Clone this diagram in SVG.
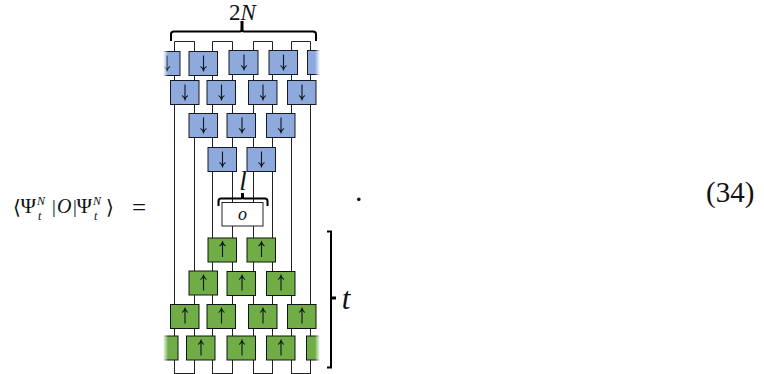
<svg xmlns="http://www.w3.org/2000/svg" xmlns:xlink="http://www.w3.org/1999/xlink" width="764" height="374" viewBox="0 0 764 374">
<style>
text{font-family:"Liberation Serif","DejaVu Serif",serif;fill:#111}
.i{font-style:italic}
.w{fill:none;stroke:#222;stroke-width:1}
.b{fill:#8ea9db;stroke:#161a22;stroke-width:1}
.g{fill:#70ad47;stroke:#10160c;stroke-width:1}
.br{fill:none;stroke:#000;stroke-width:2}
.tk{fill:none;stroke:#000;stroke-width:3}
.a{fill:none;stroke:#10151f;stroke-width:1.100}
</style>
<defs>
<linearGradient id="fl"><stop offset="0" stop-color="#fff"/><stop offset="1" stop-color="#fff" stop-opacity="0"/></linearGradient>
<linearGradient id="fr"><stop offset="0" stop-color="#fff" stop-opacity="0"/><stop offset="1" stop-color="#fff"/></linearGradient>
<g id="dn"><path class="a" d="M0-7.500V7M-3 3.500Q-1 4.500 0 7.500Q1 4.500 3 3.500"/></g>
<g id="up"><path class="a" d="M0 7.500V-7M-3-3.500Q-1-4.500 0-7.500Q1-4.500 3-3.500"/></g>
</defs>
<g id="connectors">
<path class="w" d="M174.500 373V41.500H194.500V373M212.500 373V41.500H232.500V373M253.500 373V41.500H272.500V373M291.500 373V41.500H310.500V373"/>
<path class="w" d="M174 373.500H195M212 373.500H233M253 373.500H273M291 373.500H311"/>
</g>
<g id="top-row">
<rect class="b" x="160.500" y="51.500" width="19.500" height="24"/><use xlink:href="#dn" x="167" y="63"/>
<rect class="b" x="189" y="51.500" width="28.500" height="24"/><use xlink:href="#dn" x="203.500" y="63"/>
<rect class="b" x="229" y="50.500" width="29" height="24"/><use xlink:href="#dn" x="244" y="62"/>
<rect class="b" x="269" y="50.500" width="28.500" height="24"/><use xlink:href="#dn" x="283.500" y="62"/>
<rect class="b" x="307.500" y="50.500" width="16" height="24"/>
</g>
<g id="row-2">
<rect class="b" x="170.500" y="80.500" width="28.500" height="24"/><use xlink:href="#dn" x="185" y="92"/>
<rect class="b" x="207" y="80.500" width="28.500" height="24"/><use xlink:href="#dn" x="221.500" y="92"/>
<rect class="b" x="248.500" y="80.500" width="28.500" height="24"/><use xlink:href="#dn" x="263" y="92"/>
<rect class="b" x="287.500" y="80.500" width="28.500" height="24"/><use xlink:href="#dn" x="302" y="92"/>
</g>
<g id="row-3">
<rect class="b" x="189" y="113.500" width="28.500" height="24"/><use xlink:href="#dn" x="203.500" y="125"/>
<rect class="b" x="227" y="113.500" width="28.500" height="24"/><use xlink:href="#dn" x="242" y="125"/>
<rect class="b" x="266.500" y="113.500" width="28.500" height="24"/><use xlink:href="#dn" x="281" y="125"/>
</g>
<g id="row-4">
<rect class="b" x="208" y="147.500" width="28.500" height="24"/><use xlink:href="#dn" x="222.500" y="159"/>
<rect class="b" x="247" y="147.500" width="28.500" height="24"/><use xlink:href="#dn" x="261.500" y="159"/>
</g>
<g id="operator">
<rect x="222" y="202.500" width="41" height="23.500" fill="#fff" stroke="#222" stroke-width="1"/>
<text class="i" x="242.500" y="220" font-size="18" text-anchor="middle">o</text>
<path class="br" d="M218.500 206V201Q218.500 198.500 221 198.500H241Q242.500 198.500 242.500 197Q242.500 198.500 244 198.500H265Q267.500 198.500 267.500 201V206"/>
<path class="tk" d="M242.500 198V193"/>
<text class="i" x="243" y="190" font-size="27" text-anchor="middle">l</text>
</g>
<g id="green-1">
<rect class="g" x="208" y="238" width="28.500" height="24"/><use xlink:href="#up" x="222.500" y="249.500"/>
<rect class="g" x="247" y="238" width="28.500" height="24"/><use xlink:href="#up" x="261.500" y="249.500"/>
</g>
<g id="green-2">
<rect class="g" x="189" y="271" width="28.500" height="24"/><use xlink:href="#up" x="203.500" y="283"/>
<rect class="g" x="227" y="271.500" width="28.500" height="24"/><use xlink:href="#up" x="242" y="283"/>
<rect class="g" x="266.500" y="271.500" width="28.500" height="24"/><use xlink:href="#up" x="281" y="283"/>
</g>
<g id="green-3">
<rect class="g" x="170.500" y="304.500" width="28.500" height="24"/><use xlink:href="#up" x="185" y="316"/>
<rect class="g" x="207" y="304.500" width="28.500" height="24"/><use xlink:href="#up" x="221.500" y="316"/>
<rect class="g" x="248.500" y="304.500" width="28.500" height="24"/><use xlink:href="#up" x="263" y="316"/>
<rect class="g" x="287.500" y="304.500" width="28.500" height="24"/><use xlink:href="#up" x="302" y="316"/>
</g>
<g id="green-4">
<rect class="g" x="160" y="336" width="18" height="24"/>
<rect class="g" x="186.500" y="336" width="28.500" height="24"/><use xlink:href="#up" x="201" y="348"/>
<rect class="g" x="227" y="336" width="28.500" height="24"/><use xlink:href="#up" x="242" y="348"/>
<rect class="g" x="266.500" y="336" width="28.500" height="24"/><use xlink:href="#up" x="281" y="348"/>
<rect class="g" x="306.500" y="336" width="17" height="24"/>
</g>
<g id="fades">
<rect x="163" y="49" width="5" height="28" fill="url(#fl)"/>
<rect x="315" y="49" width="5" height="28" fill="url(#fr)"/>
<rect x="163" y="334" width="5" height="28" fill="url(#fl)"/>
<rect x="315" y="334" width="5" height="28" fill="url(#fr)"/>
<rect x="159" y="44" width="4" height="36" fill="#fff"/>
<rect x="320" y="44" width="5" height="36" fill="#fff"/>
<rect x="159" y="330" width="4" height="36" fill="#fff"/>
<rect x="320" y="330" width="5" height="36" fill="#fff"/>
</g>
<g id="brace-2n">
<path class="br" d="M171 41V34Q171 31.500 174 31.500H240Q242 31.500 242 29Q242 31.500 244 31.500H313Q316 31.500 316 34V41"/>
<path class="tk" d="M242 31V21"/>
<text x="242.500" y="19.500" font-size="23" text-anchor="middle">2<tspan class="i">N</tspan></text>
</g>
<g id="bracket-t">
<path class="br" d="M327 231.500H331V367.500H327"/>
<path class="tk" d="M331 298H336"/>
<text class="i" x="346" y="309" font-size="31" text-anchor="middle">t</text>
</g>
<g id="formula">
<text x="13" y="214" font-size="20" font-family="DejaVu Sans">⟨</text>
<text x="20.500" y="213" font-size="21">Ψ</text>
<text class="i" x="37" y="205" font-size="12">N</text>
<text class="i" x="38" y="220" font-size="12">t</text>
<text x="52" y="213" font-size="19">|</text>
<text class="i" x="57" y="213" font-size="20">O</text>
<text x="73" y="213" font-size="19">|</text>
<text x="76.500" y="213" font-size="21">Ψ</text>
<text class="i" x="93" y="205" font-size="12">N</text>
<text class="i" x="94" y="220" font-size="12">t</text>
<text x="106" y="214" font-size="20" font-family="DejaVu Sans">⟩</text>
<text x="132" y="216" font-size="25">=</text>
</g>
<text x="355" y="201" font-size="30">.</text>
<text x="706" y="202" font-size="29">(34)</text>
</svg>
